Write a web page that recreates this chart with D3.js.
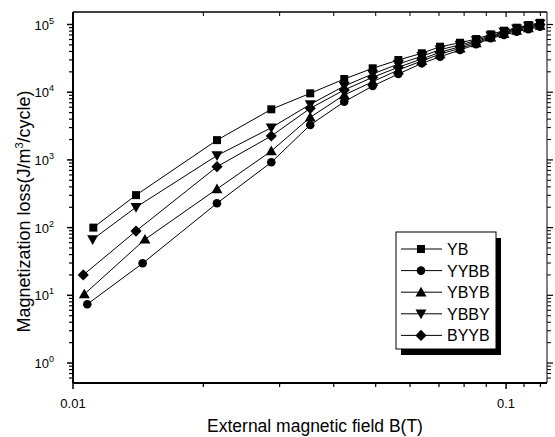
<!DOCTYPE html>
<html><head><meta charset="utf-8">
<script src="https://cdn.jsdelivr.net/npm/d3@7"></script>
<style>
body{margin:0;background:#fff;}
text{font-family:"Liberation Sans",Arial,sans-serif;fill:#000;}
</style></head>
<body><svg id="c" width="555" height="437"></svg>
<script>
// ---- data ----
const seriesNames = ["YB","YYBB","YBYB","YBBY","BYYB"];
const sharedB = [0.0215,0.0287,0.0353,0.0423,0.0492,0.0564,0.0639,0.0704,0.0783,0.0853,0.0922,0.0989,0.1058,0.1126,0.1198];
const fieldYB   = [0.01114,0.01398].concat(sharedB);
const fieldYYBB = [0.01079,0.01448].concat(sharedB);
const fieldYBYB = [0.01062,0.01466].concat(sharedB);
const fieldYBBY = [0.0111,0.01398].concat(sharedB);
const fieldBYYB = [0.01056,0.01398].concat(sharedB);
const lossYB   = [100,302,1960,5590,9630,15670,22550,29900,37600,47000,53800,61000,71600,81000,89700,98300,106000];
const lossYYBB = [7.4,29.7,229,922,3280,7240,12340,18600,26700,33400,42000,51000,62500,70000,78300,84900,92700];
const lossYBYB = [10.4,67,372,1350,4260,9100,14300,21300,29000,36500,44500,53000,64500,73000,81500,88500,96500];
const lossYBBY = [67,200,1160,2990,6620,12340,18600,26100,34000,42500,50000,58000,68500,77500,86500,95000,103000];
const lossBYYB = [20,89,794,2255,5780,10800,16600,23400,31000,39000,47000,55500,66500,75500,84000,92000,100000];
const xTickLabels = ["0.01","0.1"];
const yTickExps = [0,1,2,3,4,5];
const xLabel = "External magnetic field B(T)";
const yLabel = "Magnetization loss(J/m";

const fields = [fieldYB,fieldYYBB,fieldYBYB,fieldYBBY,fieldBYYB];
const losses = [lossYB,lossYYBB,lossYBYB,lossYBBY,lossBYYB];
const markers = ["square","circle","triangle","triangleDown","diamond"];

// ---- layout ----
const L=73, R=547, T=12, B=383;
const svg = d3.select("#c");
const x = d3.scaleLog().domain([0.01,0.1243]).range([L,R]);
const y = d3.scaleLog().domain([0.507,153000]).range([B,T]);

function markerPath(type){
  const p = d3.path();
  if(type==="square"){ const s=4; p.rect(-s,-s,2*s,2*s); }
  else if(type==="circle"){ p.arc(0,0,4.3,0,2*Math.PI); }
  else if(type==="triangle"){ p.moveTo(0,-5.5); p.lineTo(5.5,4.2); p.lineTo(-5.5,4.2); p.closePath(); }
  else if(type==="triangleDown"){ p.moveTo(0,5.5); p.lineTo(5.5,-4.2); p.lineTo(-5.5,-4.2); p.closePath(); }
  else if(type==="diamond"){ p.moveTo(0,-5.6); p.lineTo(5.6,0); p.lineTo(0,5.6); p.lineTo(-5.6,0); p.closePath(); }
  return p.toString();
}

// ---- series ----
const line = d3.line().x(d=>x(d[0])).y(d=>y(d[1]));
seriesNames.forEach((name,i)=>{
  const pts = fields[i].map((b,j)=>[b,losses[i][j]]);
  svg.append("path").attr("d",line(pts)).attr("fill","none").attr("stroke","#000").attr("stroke-width",1);
});
seriesNames.forEach((name,i)=>{
  const pts = fields[i].map((b,j)=>[b,losses[i][j]]);
  svg.append("g").selectAll("path").data(pts).join("path")
    .attr("d",markerPath(markers[i]))
    .attr("transform",d=>`translate(${x(d[0])},${y(d[1])})`)
    .attr("fill","#000");
});

// ---- frame ----
const frame = svg.append("g").attr("stroke","#000").attr("fill","none");
frame.append("line").attr("x1",L).attr("x2",R).attr("y1",B).attr("y2",B).attr("stroke-width",2);
frame.append("line").attr("x1",L).attr("x2",R).attr("y1",T).attr("y2",T).attr("stroke-width",1.5);
frame.append("line").attr("x1",L).attr("x2",L).attr("y1",T).attr("y2",B).attr("stroke-width",2);
frame.append("line").attr("x1",R).attr("x2",R).attr("y1",T).attr("y2",B).attr("stroke-width",1);

// x ticks
const xMinor = [0.02,0.03,0.04,0.05,0.06,0.07,0.08,0.09,0.11,0.12];
const xMajor = [0.01,0.1];
xMajor.forEach(v=>{
  frame.append("line").attr("x1",x(v)).attr("x2",x(v)).attr("y1",B).attr("y2",B+6).attr("stroke-width",1.5);
  frame.append("line").attr("x1",x(v)).attr("x2",x(v)).attr("y1",T).attr("y2",T+5).attr("stroke-width",1.2);
});
xMinor.forEach(v=>{
  frame.append("line").attr("x1",x(v)).attr("x2",x(v)).attr("y1",B).attr("y2",B+4).attr("stroke-width",1.2);
  frame.append("line").attr("x1",x(v)).attr("x2",x(v)).attr("y1",T).attr("y2",T+4).attr("stroke-width",1);
});
svg.append("g").selectAll("text").data(xMajor).join("text")
  .attr("x",d=>x(d)).attr("y",B+25).attr("text-anchor","middle").attr("font-size",13)
  .text((d,i)=>xTickLabels[i]);

// y ticks
yTickExps.forEach(e=>{
  const v = Math.pow(10,e);
  frame.append("line").attr("x1",L-6).attr("x2",L).attr("y1",y(v)).attr("y2",y(v)).attr("stroke-width",1.5);
  frame.append("line").attr("x1",R).attr("x2",R+6).attr("y1",y(v)).attr("y2",y(v)).attr("stroke-width",1.2);
});
for(let e=-1;e<=5;e++){
  for(let m=2;m<=9;m++){
    const v=m*Math.pow(10,e);
    if(v<y.domain()[0]||v>y.domain()[1]) continue;
    frame.append("line").attr("x1",L-4).attr("x2",L).attr("y1",y(v)).attr("y2",y(v)).attr("stroke-width",1.2);
    frame.append("line").attr("x1",R).attr("x2",R+4).attr("y1",y(v)).attr("y2",y(v)).attr("stroke-width",1);
  }
}
const yt = svg.append("g").selectAll("text").data(yTickExps).join("text")
  .attr("x",L-19).attr("y",d=>y(Math.pow(10,d))+5).attr("text-anchor","end").attr("font-size",13);
yt.append("tspan").text("10");
yt.append("tspan").attr("dy",-6).attr("font-size",9).text(d=>d);

// axis labels
svg.append("text").attr("x",315).attr("y",432).attr("text-anchor","middle").attr("font-size",17.5).text(xLabel);
const yl = svg.append("text").attr("transform",`translate(30,${(T+B)/2+14}) rotate(-90)`)
  .attr("text-anchor","middle").attr("font-size",18);
yl.append("tspan").text(yLabel);
yl.append("tspan").attr("dy",-7).attr("font-size",11).text("3");
yl.append("tspan").attr("dy",7).text("/cycle)");

// ---- legend ----
const lg = svg.append("g");
const lx=396, ly=232, lw=100, lh=117;
lg.append("rect").attr("x",lx+5).attr("y",ly+6).attr("width",lw).attr("height",lh).attr("fill","#000");
lg.append("rect").attr("x",lx).attr("y",ly).attr("width",lw).attr("height",lh).attr("fill","#fff").attr("stroke","#000").attr("stroke-width",1);
seriesNames.forEach((name,i)=>{
  const cy = ly+17+i*21.6;
  lg.append("line").attr("x1",lx+5).attr("x2",lx+46).attr("y1",cy).attr("y2",cy).attr("stroke","#000").attr("stroke-width",1);
  lg.append("path").attr("d",markerPath(markers[i])).attr("transform",`translate(${lx+25},${cy})`).attr("fill","#000");
  lg.append("text").attr("x",lx+51).attr("y",cy+6).attr("font-size",16).text(name);
});
</script></body></html>
